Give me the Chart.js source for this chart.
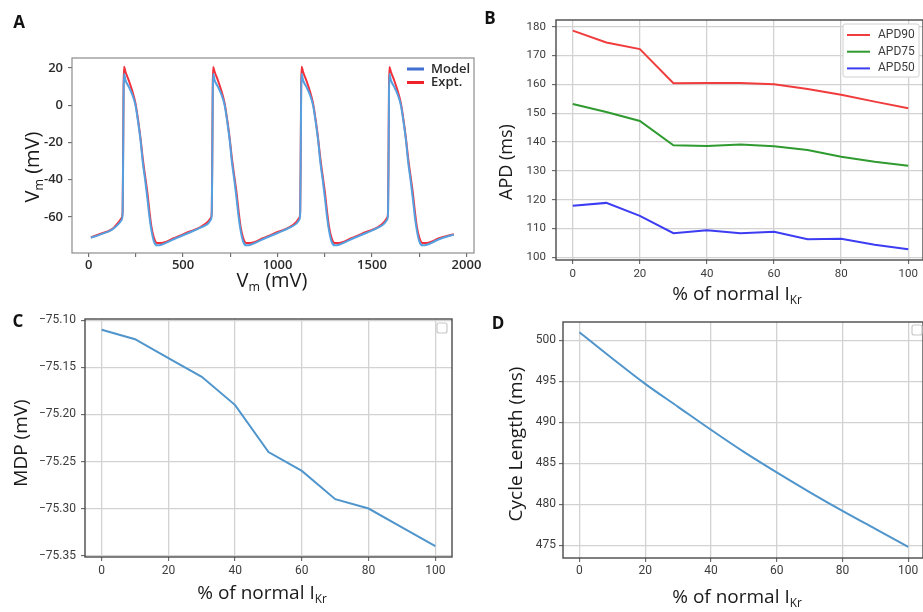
<!DOCTYPE html>
<html><head><meta charset="utf-8">
<script src="https://cdn.jsdelivr.net/npm/chart.js@4.4.0/dist/chart.umd.min.js"></script>
<style>
html,body{margin:0;padding:0;background:#fff;}
#wrap{position:relative;width:923px;height:612px;overflow:hidden;background:#fff;}
canvas{position:absolute;left:0;top:0;}
.lbl{position:absolute;font-family:'Open Sans',sans-serif;color:#1a1a1a;white-space:nowrap;transform:translate(-50%,-50%);line-height:1;}
.rot{transform:translate(-50%,-50%) rotate(-90deg);}
.pl{position:absolute;font-family:'Open Sans',sans-serif;font-weight:700;font-size:17px;color:#111;transform:translate(-50%,-50%);line-height:1;}
sub{font-size:0.62em;vertical-align:-0.35em;line-height:0;}
</style></head>
<body><div id="wrap">
<canvas id="cA" width="923" height="612"></canvas>
<canvas id="cB" width="923" height="612"></canvas>
<canvas id="cC" width="923" height="612"></canvas>
<canvas id="cD" width="923" height="612"></canvas>
<div class="pl" style="left:19px;top:21px;">A</div>
<div class="pl" style="left:490px;top:17px;">B</div>
<div class="pl" style="left:18px;top:320px;">C</div>
<div class="pl" style="left:498px;top:322px;">D</div>
<div class="lbl rot" style="left:32px;top:167px;font-size:20px;">V<sub>m</sub> (mV)</div>
<div class="lbl" style="left:272px;top:280px;font-size:20px;">V<sub>m</sub> (mV)</div>
<div class="lbl rot" style="left:505px;top:162px;font-size:18px;">APD (ms)</div>
<div class="lbl" style="left:737px;top:293px;font-size:19px;">% of normal I<sub>Kr</sub></div>
<div class="lbl rot" style="left:20px;top:443px;font-size:19px;">MDP (mV)</div>
<div class="lbl" style="left:262px;top:592px;font-size:19px;">% of normal I<sub>Kr</sub></div>
<div class="lbl rot" style="left:515px;top:444px;font-size:19px;">Cycle Length (ms)</div>
<div class="lbl" style="left:737px;top:596px;font-size:19px;">% of normal I<sub>Kr</sub></div>
</div>
<script>
// ---------- Panel A: action potential traces ----------
const timeMs = [12,60,122,
 161,175,180,183,185,187.5,195,212,230,248,262,275,287,299,311,322,332,345,362,385,450,532,592,
 633,647,652,655,657,659.5,667,684,702,720,734,747,759,771,783,794,804,817,834,857,922,1004,1064,
 1101,1115,1120,1123,1125,1127.5,1135,1152,1170,1188,1202,1215,1227,1239,1251,1262,1272,1285,1302,1325,1390,1472,1532,
 1566,1580,1585,1588,1590,1592.5,1600,1617,1635,1653,1667,1680,1692,1704,1716,1727,1737,1750,1767,1790,1855,1933];
const vmExpt = [-71,-69.2,-66.7,
 -62.5,-60.5,-57,-20,10,20.7,18,13.5,8,1,-8,-18,-29,-38,-47,-57,-65,-71,-74,-74,-71.5,-68,-65.5,
 -62.5,-60.5,-57,-20,10,20.6,18,13.5,8,1,-8,-18,-29,-38,-47,-57,-65,-71,-74,-74,-71.5,-68,-65.5,
 -62.5,-60.5,-57,-20,10,20.7,18,13.5,8,1,-8,-18,-29,-38,-47,-57,-65,-71,-74,-74,-71.5,-68,-65.5,
 -62.5,-60.5,-57,-20,10,20.6,18,13.5,8,1,-8,-18,-29,-38,-47,-57,-65,-71,-74,-74,-71.5,-69.3];
const vmModel = [-71.2,-69.5,-67,
 -63.5,-61.5,-58,-25,5,17,13.5,10,6,0,-9,-19,-31,-40,-50,-60,-67,-73,-75.3,-75,-72,-68.5,-65.8,
 -63.5,-61.5,-58,-25,5,17,13.5,10,6,0,-9,-19,-31,-40,-50,-60,-67,-73,-75.3,-75,-72,-68.5,-65.8,
 -63.5,-61.5,-58,-25,5,17,13.5,10,6,0,-9,-19,-31,-40,-50,-60,-67,-73,-75.3,-75,-72,-68.5,-65.8,
 -63.5,-61.5,-58,-25,5,17,13.5,10,6,0,-9,-19,-31,-40,-50,-60,-67,-73,-75.3,-75,-72,-69.5];

// ---------- Panels B, C, D ----------
const ikrPercent = [0,10,20,30,40,50,60,70,80,90,100];
const apd90 = [178.6,174.5,172.2,160.4,160.5,160.5,160.0,158.4,156.4,154.0,151.7];
const apd75 = [153.2,150.4,147.3,138.9,138.6,139.1,138.5,137.2,134.9,133.2,131.8];
const apd50 = [117.9,118.9,114.4,108.4,109.4,108.4,108.9,106.3,106.5,104.4,102.8];
const mdp = [-75.11,-75.12,-75.14,-75.16,-75.19,-75.24,-75.26,-75.29,-75.30,-75.32,-75.34];
const cycleLength = [501.0,497.8,494.7,491.9,489.1,486.4,483.9,481.5,479.2,477.0,474.8];

const W = 923, H = 612;

const decor = {
  id: 'decor',
  afterDraw(chart, args, o) {
    const ctx = chart.ctx, a = chart.chartArea;
    ctx.save();
    ctx.strokeStyle = o.frameColor; ctx.lineWidth = o.frameWidth;
    ctx.strokeRect(a.left, a.top, a.right - a.left, a.bottom - a.top);
    if (o.box) {
      const b = o.box;
      ctx.fillStyle = '#fff'; ctx.strokeStyle = b.border; ctx.lineWidth = 1;
      ctx.beginPath(); ctx.roundRect(b.x, b.y, b.w, b.h, 2); ctx.fill(); ctx.stroke();
    }
    if (o.items) {
      ctx.font = o.font; ctx.textBaseline = 'middle'; ctx.textAlign = 'left';
      o.items.forEach((it, i) => {
        const y = o.y0 + i * o.dy;
        ctx.strokeStyle = it.color; ctx.lineWidth = o.lw;
        ctx.beginPath(); ctx.moveTo(o.lx0, y); ctx.lineTo(o.lx1, y); ctx.stroke();
        ctx.fillStyle = o.textColor; ctx.fillText(it.text, o.tx, y);
      });
    }
    if (o.empty) {
      const e = o.empty;
      ctx.strokeStyle = '#c8c8c8'; ctx.lineWidth = 1.2;
      ctx.beginPath(); ctx.roundRect(e.x, e.y, e.w, e.h, 2); ctx.stroke();
    }
    ctx.restore();
  }
};

function makeChart(id, datasets, area, xs, ys, yW, xH, dec) {
  const axis = (s, size, isX) => ({
    type: 'linear', min: s.min, max: s.max,
    afterFit(sc) { if (isX) sc.height = size; else sc.width = size; },
    ticks: { stepSize: s.step, includeBounds: false, autoSkip: false, maxRotation: 0,
      callback: s.cb, font: s.font, color: s.color, padding: s.pad },
    grid: { drawOnChartArea: s.grid, color: '#d2d2d2', lineWidth: 1.3, tickLength: 4, tickColor: '#555', tickWidth: 1 },
    border: { display: false }
  });
  return new Chart(document.getElementById(id), {
    type: 'line',
    data: { datasets },
    options: {
      responsive: false, animation: false, devicePixelRatio: 1,
      layout: { padding: { left: area[0] - yW, top: area[1], right: W - area[2], bottom: H - area[3] - xH } },
      scales: { x: axis(xs, xH, true), y: axis(ys, yW, false) },
      plugins: { legend: { display: false }, tooltip: { enabled: false }, decor: dec },
      elements: { point: { radius: 0 }, line: { borderWidth: 2 } }
    },
    plugins: [decor]
  });
}

const pts = (xs, ys) => xs.map((x, i) => ({ x, y: ys[i] }));
const fontA = { family: 'Open Sans', size: 13, weight: '600' };
const fontT = { family: 'Roboto', size: 12 };

// Panel A
makeChart('cA', [
  { data: pts(timeMs, vmModel), borderColor: '#55a0e0', borderWidth: 2, cubicInterpolationMode: 'monotone' },
  { data: pts(timeMs, vmExpt), borderColor: '#f2303c', borderWidth: 2, cubicInterpolationMode: 'monotone' }
], [72, 58, 474, 253],
  { min: -88, max: 2040, step: 250, cb: v => (v % 500 === 0 ? v : ''), font: fontA, color: '#2a2a2a', pad: 0, grid: false },
  { min: -79.4, max: 25.4, step: 20, cb: v => v, font: fontA, color: '#2a2a2a', pad: 5, grid: false },
  60, 30,
  { frameColor: '#8c8c8c', frameWidth: 1.2,
    items: [{ text: 'Model', color: '#3f6fd0' }, { text: 'Expt.', color: '#ee2228' }],
    font: '600 13px "Open Sans"', textColor: '#2a2a2a', lw: 3, lx0: 407, lx1: 424, tx: 431, y0: 69, dy: 13.5 });

// Panel B
makeChart('cB', [
  { data: pts(ikrPercent, apd90), borderColor: '#f03c3c' },
  { data: pts(ikrPercent, apd75), borderColor: '#2f9a2f' },
  { data: pts(ikrPercent, apd50), borderColor: '#3c3cf2' }
], [556, 20, 923, 260],
  { min: -5, max: 104.4, step: 20, cb: v => v, font: { family: 'Roboto', size: 11.5 }, color: '#3c3c3c', pad: 3, grid: true },
  { min: 99.1, max: 182.3, step: 10, cb: v => v, font: { family: 'Roboto', size: 11.5 }, color: '#3c3c3c', pad: 6, grid: true },
  50, 30,
  { frameColor: '#4a4a4a', frameWidth: 1.4,
    box: { x: 843, y: 24, w: 76, h: 53, border: '#d0d0d0' },
    items: [{ text: 'APD90', color: '#f03c3c' }, { text: 'APD75', color: '#2f9a2f' }, { text: 'APD50', color: '#3c3cf2' }],
    font: '12px Roboto', textColor: '#3c3c3c', lw: 2, lx0: 847, lx1: 870, tx: 878, y0: 35, dy: 16.7 });

// Panel C
makeChart('cC', [
  { data: pts(ikrPercent, mdp), borderColor: '#4f95cc' }
], [85, 319, 452, 557],
  { min: -5, max: 105, step: 20, cb: v => v, font: fontT, color: '#3c3c3c', pad: 3, grid: true },
  { min: -75.3515, max: -75.0985, step: 0.05, cb: v => (v < 0 ? '\u2212' : '') + Math.abs(v).toFixed(2), font: fontT, color: '#3c3c3c', pad: 5, grid: true },
  70, 30,
  { frameColor: '#4a4a4a', frameWidth: 1.4, empty: { x: 437, y: 323, w: 10, h: 10 } });

// Panel D
makeChart('cD', [
  { data: pts(ikrPercent, cycleLength), borderColor: '#4f95cc', cubicInterpolationMode: 'monotone' }
], [563, 322, 923, 558],
  { min: -5, max: 104.5, step: 20, cb: v => v, font: fontT, color: '#3c3c3c', pad: 2, grid: true },
  { min: 473.45, max: 502.25, step: 5, cb: v => v, font: fontT, color: '#3c3c3c', pad: 3, grid: true },
  50, 30,
  { frameColor: '#4a4a4a', frameWidth: 1.4, empty: { x: 912, y: 325, w: 10, h: 10 } });
</script>
</body></html>
